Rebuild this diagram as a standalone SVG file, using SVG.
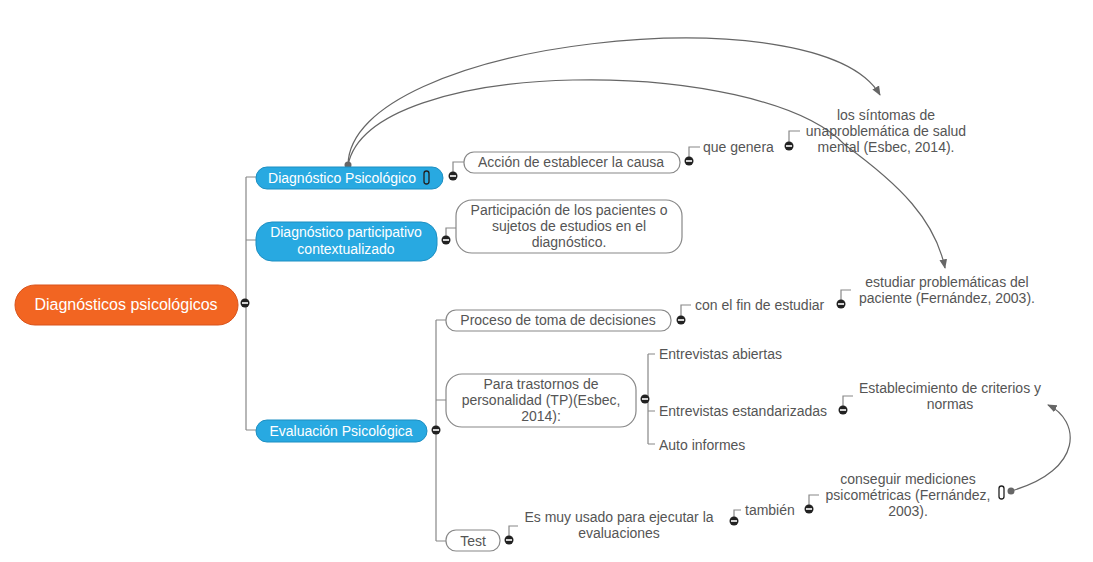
<svg xmlns="http://www.w3.org/2000/svg" width="1093" height="562" viewBox="0 0 1093 562">
<defs>
<style>
text{font-family:"Liberation Sans",Arial,sans-serif;font-size:14px;fill:#555}
.w{fill:#fff}
.c{text-anchor:middle}
.ln{fill:none;stroke:#888;stroke-width:1.2}
.cv{fill:none;stroke:#666;stroke-width:1.2}
.blue{fill:#28a9e1;stroke:#1d8fc2}
.box{fill:#fff;stroke:#888;stroke-width:1.2}
</style>
<marker id="ah" viewBox="0 0 10 10" refX="9" refY="5" markerWidth="8" markerHeight="8" orient="auto"><path d="M0,1 L10,5 L0,9 z" fill="#666"/></marker>
<g id="m"><circle r="4.5" fill="#222"/><rect x="-3" y="-0.8" width="6" height="1.6" fill="#fff"/></g>
</defs>
<g id="connectors">
<path class="ln" d="M246,177 V430 M246,177 H256 M246,240 H256 M246,430 H256"/>
<path class="ln" d="M453,176 V162 H464 M446,240 V228 H456 M689,161 V147 H700 M789,146 V131 H800"/>
<path class="ln" d="M436,320 V541 M436,320 H446 M436,400 H446 M436,541 H446"/>
<path class="ln" d="M681,320 V305 H691 M841,304 V290 H851"/>
<path class="ln" d="M648,354 V444 M648,354 H655 M648,411 H655 M648,444 H655 M843,410 V396 H853"/>
<path class="ln" d="M509,540 V526 H518 M734,521 V510 H741 M809,509 V495 H819"/>
<path class="cv" d="M348,165 C350,40 820,-10 880,95" marker-end="url(#ah)"/>
<path class="cv" d="M348,165 C370,55 760,55 845,145 C900,185 935,220 945,268" marker-end="url(#ah)"/>
<path class="cv" d="M1011,491 C1085,470 1080,420 1048,405" marker-end="url(#ah)"/>
<circle cx="348" cy="165" r="3.5" fill="#666"/>
<circle cx="1011" cy="491" r="3.5" fill="#666"/>
</g>
<g id="root"><rect x="15" y="285" width="223" height="40" rx="20" fill="#f26522" stroke="#d9531a"/><text class="w c" x="126" y="310" style="font-size:16px">Diagnósticos psicológicos</text><use href="#m" x="245" y="303"/></g>
<g id="n1"><rect class="blue" x="256" y="167" width="187" height="22" rx="11"/><text class="w c" x="342" y="183">Diagnóstico Psicológico</text><rect x="424" y="171" width="5" height="13" rx="2.5" fill="none" stroke="#222" stroke-width="1.3"/><use href="#m" x="453" y="176"/></g>
<g id="n2"><rect class="blue" x="256" y="222" width="181" height="39" rx="16"/><text class="w c" x="346" y="237">Diagnóstico participativo</text><text class="w c" x="346" y="254">contextualizado</text><use href="#m" x="446" y="240"/></g>
<g id="n3"><rect class="blue" x="256" y="420" width="171" height="22" rx="11"/><text class="w c" x="341" y="436">Evaluación Psicológica</text><use href="#m" x="436" y="430"/></g>
<g id="n4"><rect class="box" x="464" y="152" width="216" height="21" rx="10"/><text class="c" x="571" y="167">Acción de establecer la causa</text><use href="#m" x="689" y="161"/></g>
<g id="n5"><text x="703" y="152">que genera</text><use href="#m" x="789" y="146"/></g>
<g id="n6"><text class="c" x="886" y="120">los síntomas de</text><text class="c" x="886" y="136">unaproblemática de salud</text><text class="c" x="886" y="152">mental (Esbec, 2014).</text></g>
<g id="n7"><rect class="box" x="456" y="200" width="226" height="53" rx="16"/><text class="c" x="569" y="215">Participación de los pacientes o</text><text class="c" x="569" y="231">sujetos de estudios en el</text><text class="c" x="569" y="247">diagnóstico.</text></g>
<g id="n8"><rect class="box" x="446" y="310" width="225" height="21" rx="10"/><text class="c" x="558" y="325">Proceso de toma de decisiones</text><use href="#m" x="681" y="320"/></g>
<g id="n9"><text x="695" y="310">con el fin de estudiar</text><use href="#m" x="841" y="304"/></g>
<g id="n10"><text class="c" x="947" y="287">estudiar problemáticas del</text><text class="c" x="947" y="303">paciente (Fernández, 2003).</text></g>
<g id="n11"><rect class="box" x="446" y="374" width="190" height="53" rx="16"/><text class="c" x="541" y="389">Para trastornos de</text><text class="c" x="541" y="405">personalidad (TP)(Esbec,</text><text class="c" x="541" y="421">2014):</text><use href="#m" x="645" y="399"/></g>
<g id="n12"><text x="659" y="359">Entrevistas abiertas</text></g>
<g id="n13"><text x="659" y="416">Entrevistas estandarizadas</text><use href="#m" x="843" y="410"/></g>
<g id="n14"><text x="659" y="450">Auto informes</text></g>
<g id="n15"><text class="c" x="950" y="393">Establecimiento de criterios y</text><text class="c" x="950" y="409">normas</text></g>
<g id="n16"><rect class="box" x="446" y="530" width="54" height="21" rx="10"/><text class="c" x="473" y="546">Test</text><use href="#m" x="509" y="540"/></g>
<g id="n17"><text class="c" x="619" y="522">Es muy usado para ejecutar la</text><text class="c" x="619" y="538">evaluaciones</text><use href="#m" x="734" y="521"/></g>
<g id="n18"><text x="745" y="515">también</text><use href="#m" x="809" y="509"/></g>
<g id="n19"><text class="c" x="908" y="484">conseguir mediciones</text><text class="c" x="908" y="500">psicométricas (Fernández,</text><text class="c" x="908" y="516">2003).</text><rect x="999" y="486" width="5" height="13" rx="2.5" fill="none" stroke="#222" stroke-width="1.3"/></g>
</svg>
